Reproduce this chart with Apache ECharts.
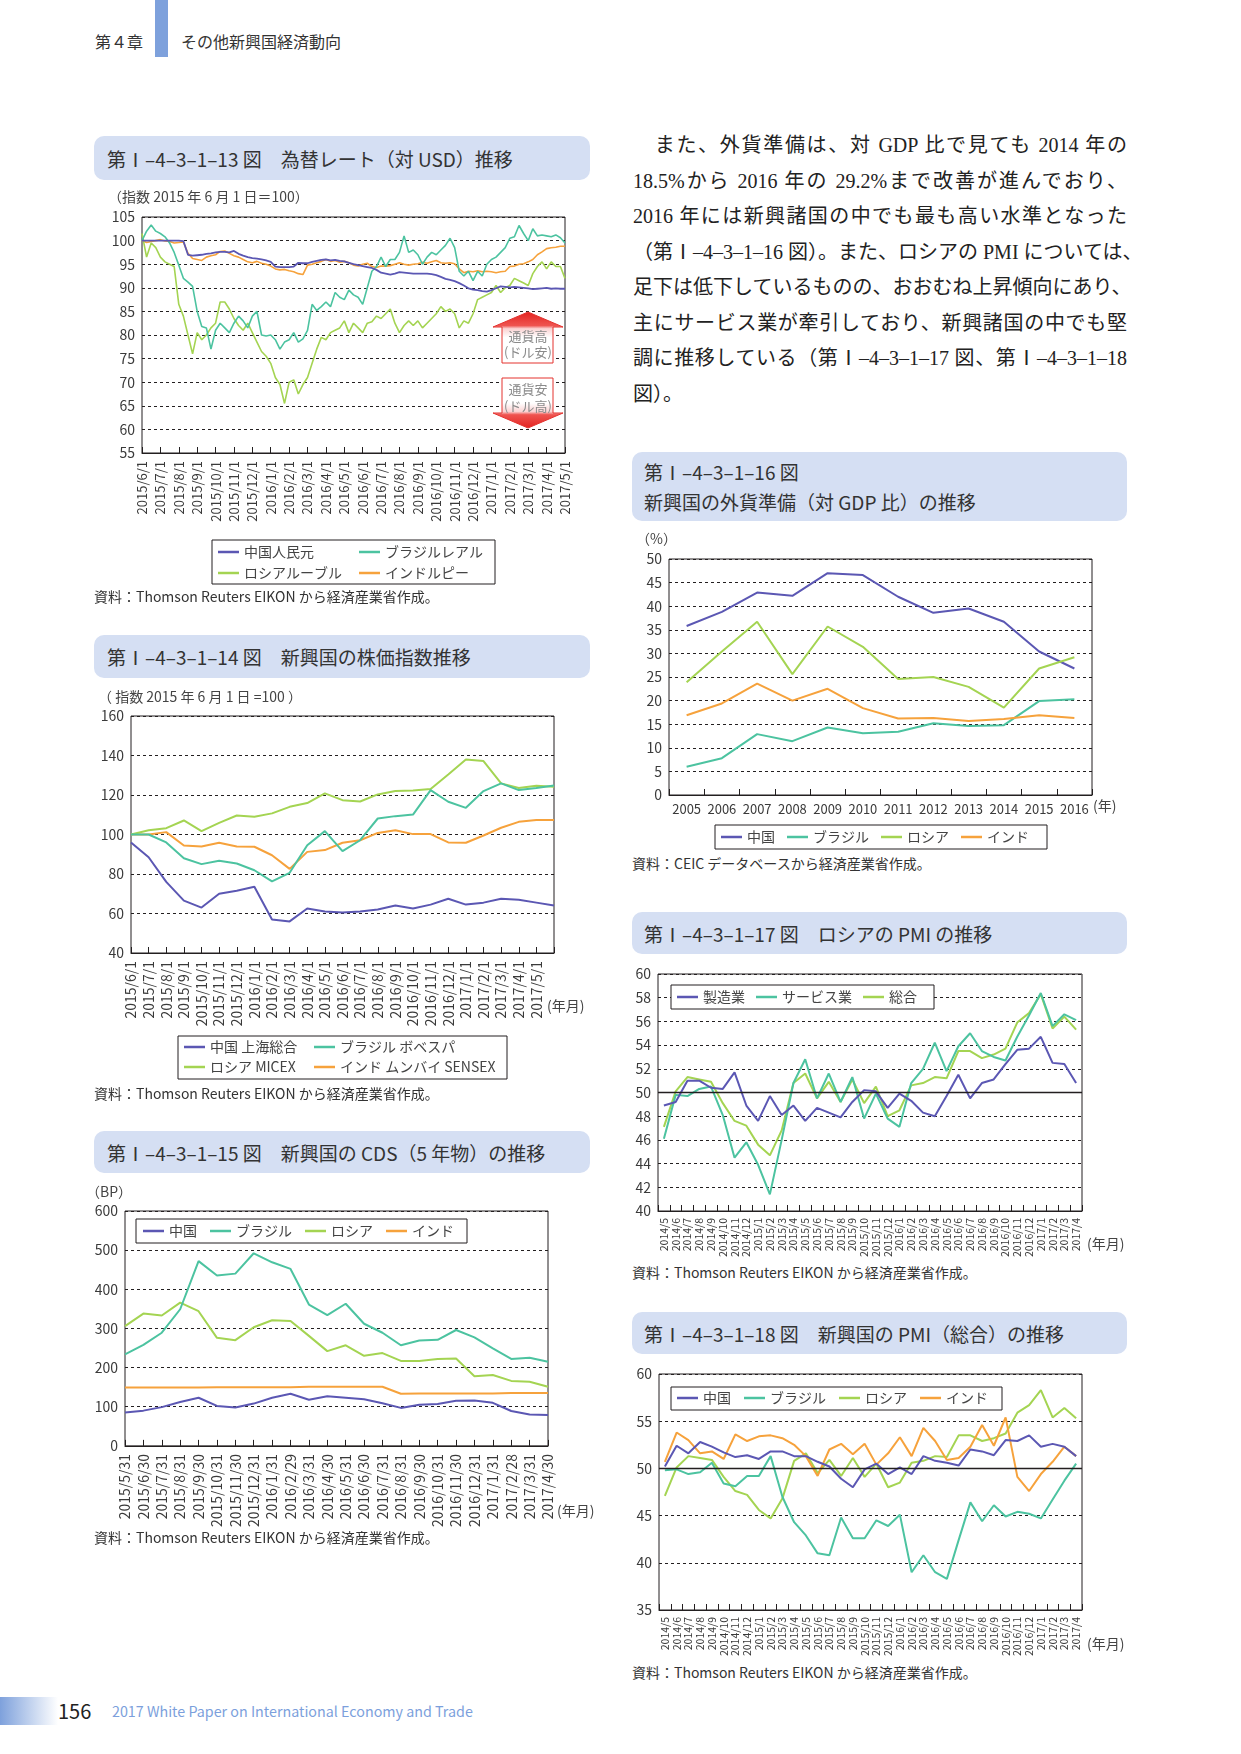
<!DOCTYPE html>
<html lang="ja">
<head>
<meta charset="utf-8">
<title>第4章 その他新興国経済動向</title>
<script src="https://cdn.jsdelivr.net/npm/echarts@6/dist/echarts.min.js"></script>
<style>
  html, body { margin: 0; padding: 0; background: #fff; }
  body {
    width: 1241px; height: 1754px; position: relative; overflow: hidden;
    font-family: "Noto Sans CJK JP", "Noto Sans", sans-serif; color: #333;
  }
  .abs { position: absolute; }
  .chapter { left: 95px; top: 30px; font-size: 16px; line-height: 22px; color: #333; }
  .chapter-bar { left: 155px; top: 0; width: 13px; height: 57px; background: #7ea1dc; }
  .chapter-name { left: 181px; top: 30px; font-size: 16px; line-height: 22px; color: #333; }

  .title-box {
    position: absolute; background: #d5dff3; border-radius: 10px;
    font-size: 19px; color: #333; box-sizing: border-box; padding-left: 13px;
    display: flex; align-items: center; white-space: nowrap;
  }
  .title-box.two { flex-direction: column; align-items: flex-start; justify-content: center; line-height: 30px; }
  .src { position: absolute; font-size: 14px; line-height: 20px; color: #333; white-space: nowrap; }
  .chart { position: absolute; }

  .body-text { left: 633px; top: 128px; width: 494px; font-family: "Liberation Serif", "Noto Sans CJK JP", serif; font-size: 20px; color: #222; }
  .body-text div { height: 35.5px; line-height: 35.5px; text-align: justify; text-align-last: justify; white-space: nowrap; }
  .body-text div.last { text-align-last: left; }

  .foot-bar { left: 0; top: 1697px; width: 58px; height: 28px; background: linear-gradient(to right, #7ea1dc, #ffffff); }
  .page-no { left: 58px; top: 1697px; font-size: 20px; line-height: 28px; color: #222; }
  .foot-title { left: 112px; top: 1700px; font-size: 14.3px; line-height: 22px; color: #7c9fdc; }
</style>
</head>
<body>
  <div class="abs chapter">第４章</div>
  <div class="abs chapter-bar"></div>
  <div class="abs chapter-name">その他新興国経済動向</div>

  <!-- left column -->
  <div class="title-box" style="left:94px; top:136px; width:496px; height:44px;">第Ⅰ–4–3–1–13 図　為替レート（対 USD）推移</div>
  <div id="c13" class="chart" style="left:84px; top:184px; width:510px; height:405px;"></div>
  <div class="src" style="left:94px; top:586px;">資料：Thomson Reuters EIKON から経済産業省作成。</div>

  <div class="title-box" style="left:94px; top:635px; width:496px; height:43px;">第Ⅰ–4–3–1–14 図　新興国の株価指数推移</div>
  <div id="c14" class="chart" style="left:84px; top:684px; width:520px; height:400px;"></div>
  <div class="src" style="left:94px; top:1083px;">資料：Thomson Reuters EIKON から経済産業省作成。</div>

  <div class="title-box" style="left:94px; top:1131px; width:496px; height:42px;">第Ⅰ–4–3–1–15 図　新興国の CDS（5 年物）の推移</div>
  <div id="c15" class="chart" style="left:84px; top:1180px; width:525px; height:350px;"></div>
  <div class="src" style="left:94px; top:1527px;">資料：Thomson Reuters EIKON から経済産業省作成。</div>

  <!-- right column -->
  <div class="abs body-text">
    <div>　また、外貨準備は、対 GDP 比で見ても 2014 年の</div>
    <div>18.5%から 2016 年の 29.2%まで改善が進んでおり、</div>
    <div>2016 年には新興諸国の中でも最も高い水準となった</div>
    <div>（第Ⅰ–4–3–1–16 図）。また、ロシアの PMI については、</div>
    <div>足下は低下しているものの、おおむね上昇傾向にあり、</div>
    <div>主にサービス業が牽引しており、新興諸国の中でも堅</div>
    <div>調に推移している（第Ⅰ–4–3–1–17 図、第Ⅰ–4–3–1–18</div>
    <div class="last">図）。</div>
  </div>

  <div class="title-box two" style="left:632px; top:452px; width:495px; height:69px; padding-left:12px;">
    <span>第Ⅰ–4–3–1–16 図</span><span>新興国の外貨準備（対 GDP 比）の推移</span>
  </div>
  <div id="c16" class="chart" style="left:630px; top:525px; width:520px; height:328px;"></div>
  <div class="src" style="left:632px; top:853px;">資料：CEIC データベースから経済産業省作成。</div>

  <div class="title-box" style="left:632px; top:912px; width:495px; height:42px; padding-left:12px;">第Ⅰ–4–3–1–17 図　ロシアの PMI の推移</div>
  <div id="c17" class="chart" style="left:630px; top:958px; width:520px; height:304px;"></div>
  <div class="src" style="left:632px; top:1262px;">資料：Thomson Reuters EIKON から経済産業省作成。</div>

  <div class="title-box" style="left:632px; top:1312px; width:495px; height:42px; padding-left:12px;">第Ⅰ–4–3–1–18 図　新興国の PMI（総合）の推移</div>
  <div id="c18" class="chart" style="left:630px; top:1358px; width:520px; height:304px;"></div>
  <div class="src" style="left:632px; top:1662px;">資料：Thomson Reuters EIKON から経済産業省作成。</div>

  <div class="abs foot-bar"></div>
  <div class="abs page-no">156</div>
  <div class="abs foot-title">2017 White Paper on International Economy and Trade</div>

<script>
// ---- 13: exchange rates vs USD (index 2015/6/1 = 100), ~weekly readings ----
const fxMonths = ['2015/6/1', '2015/7/1', '2015/8/1', '2015/9/1', '2015/10/1', '2015/11/1', '2015/12/1',
  '2016/1/1', '2016/2/1', '2016/3/1', '2016/4/1', '2016/5/1', '2016/6/1', '2016/7/1', '2016/8/1',
  '2016/9/1', '2016/10/1', '2016/11/1', '2016/12/1', '2017/1/1', '2017/2/1', '2017/3/1', '2017/4/1', '2017/5/1']
const fxCny = [100, 100, 100, 100, 100, 100, 100, 100, 100, 99.9,
  97, 96.8, 96.9, 97, 97.2, 97.3, 97.5, 97.6, 97.6, 97.5,
  97.8, 97.2, 96.8, 96.5, 96.3, 96.2, 96, 95.8, 95.5, 94.5,
  94.4, 94.4, 94.4, 94.5, 95.3, 95.2, 95.2, 95.5, 95.7, 95.9,
  96, 95.8, 95.9, 95.7, 95.6, 95.3, 95, 94.8, 94.6, 94.4,
  94.2, 93.8, 93.2, 93, 92.8, 93, 93.3, 93.2, 93.1, 93,
  93, 93, 93, 92.9, 92.7, 92.3, 91.9, 91.7, 91.4, 91,
  90.5, 89.9, 89.6, 89.5, 89.3, 89.2, 89.5, 89.9, 90.3, 90.2,
  90.1, 90.2, 90.1, 90, 89.9, 89.7, 89.8, 89.9, 90, 89.8,
  89.9, 89.8, 89.8]
const fxBrl = [100, 102, 103.3, 102, 101.5, 100.8, 99.5, 97.5, 94.8, 92,
  91.2, 90.3, 85, 81.8, 81.5, 77, 81, 82.5, 81.5, 80.5,
  82.5, 84, 83, 81.5, 84, 85, 80, 79.8, 80, 79,
  77, 78.5, 79, 80.5, 78.5, 79.2, 81, 86.5, 85.2, 86,
  87, 86, 89, 88, 87.5, 89.5, 88.5, 88, 86.5, 90,
  93.5, 94.5, 96.5, 94.5, 96, 96, 97.5, 101, 97.5, 98,
  97, 95, 96.5, 97.5, 97, 98, 99, 100.5, 98.5, 93.5,
  92.5, 93.5, 91.5, 93.5, 92.5, 95, 96, 96.5, 97.5, 98.5,
  100.5, 100.8, 103.2, 101.5, 100, 102.5, 101, 101.2, 101, 100.8,
  101.2, 100.6, 99.5]
const fxRub = [101.5, 96.5, 99.5, 98.5, 96.5, 95.5, 95, 94.5, 86.5, 84,
  80, 76, 80.5, 79, 80, 81.5, 82.5, 87, 87, 85.5,
  83.5, 82, 81, 82.5, 80.5, 78.5, 76.5, 75.5, 74, 71,
  69.5, 65.5, 70, 70.5, 67.5, 69.5, 71, 74, 77, 79.5,
  79, 80.5, 81, 81.5, 83, 80.5, 82.5, 81.5, 80.5, 82.5,
  82.8, 84, 83.5, 84.5, 85.5, 82.5, 80.5, 82, 83, 82,
  83, 81.5, 82.5, 83.5, 84.5, 86, 85, 85.5, 84.5, 81.5,
  83, 82.5, 84.5, 87.5, 88, 88.5, 89, 90.5, 89, 90,
  90.5, 92, 91.5, 91, 90.5, 93, 94.5, 95.5, 94, 95.5,
  94.5, 94.5, 92]
const fxInr = [100, 99.6, 99.8, 100, 100.2, 99.9, 99.8, 99.5, 99.6, 99.7,
  97.3, 96.2, 96, 95.8, 96.5, 96.8, 97, 97.7, 97.8, 97.3,
  96.8, 96.5, 96, 95.5, 95.3, 95.6, 95.2, 95, 94.6, 94,
  93.8, 93.9, 93.6, 93.4, 93, 92.8, 94.8, 95, 95.3, 95.6,
  96, 95.6, 95.8, 95.4, 95.6, 95.3, 94.8, 94.6, 95, 95.2,
  94.5, 94.3, 94.6, 94.6, 94.7, 95, 95.3, 95, 94.8, 95,
  95.1, 95.4, 95.2, 95.5, 95.8, 95.3, 95.2, 95.3, 95.1, 94,
  93.2, 93.5, 93.4, 93.6, 93.4, 93.5, 93.4, 93.2, 93.4, 93.5,
  94.5, 94.6, 95, 95.1, 95.5, 96, 97, 97.6, 98.3, 98.5,
  98.6, 98.8, 98.8]

// ---- 14: stock indices (index 2015/6/1 = 100) ----
const stockMonths = fxMonths.concat([''])
const stockChina = [96, 88.5, 76, 66.5, 63, 70, 71.5, 73.5, 57, 56, 62.5, 61, 60.5, 61, 62, 64, 62.5, 64.5, 67.5, 64.5, 65.5, 67.5, 67, 65.5, 64]
const stockBrazil = [100, 100, 96, 88, 85, 86.7, 85.3, 81.9, 76.3, 80.6, 94.6, 101.7, 91.6, 97.1, 108.1, 109.3, 110.1, 122.5, 116.6, 113.5, 122, 125.9, 122.5, 123.5, 124.8]
const stockRussia = [100, 102.2, 103.2, 107.1, 101.7, 105.9, 109.6, 109, 110.7, 114, 115.9, 120.8, 117.4, 116.7, 120.3, 122, 122.3, 123, 130.4, 138, 137.2, 125.9, 123.5, 124.7, 124.2]
const stockIndia = [100, 100, 101.2, 94.4, 93.9, 95.8, 93.9, 93.8, 89.5, 82.6, 91.2, 92.1, 95.8, 97.1, 100.8, 102.2, 100.2, 100.2, 96, 95.8, 99.5, 103.4, 106.4, 107.3, 107.3]

// ---- 15: CDS 5Y (BP) ----
const cdsDates = ['2015/5/31', '2015/6/30', '2015/7/31', '2015/8/31', '2015/9/30', '2015/10/31', '2015/11/30', '2015/12/31',
  '2016/1/31', '2016/2/29', '2016/3/31', '2016/4/30', '2016/5/31', '2016/6/30', '2016/7/31', '2016/8/31',
  '2016/9/30', '2016/10/31', '2016/11/30', '2016/12/31', '2017/1/31', '2017/2/28', '2017/3/31', '2017/4/30']
const cdsChina = [85, 90, 99, 112, 123, 102, 98, 108, 123, 133, 118, 127, 123, 119, 109, 97, 105, 107, 115, 116, 110, 89, 80, 79]
const cdsBrazil = [234, 258, 289, 349, 472, 435, 440, 492, 469, 452, 361, 334, 363, 312, 289, 257, 269, 271, 296, 277, 249, 222, 225, 215]
const cdsRussia = [306, 338, 333, 366, 344, 276, 270, 303, 321, 319, 281, 242, 257, 230, 237, 217, 217, 222, 223, 178, 181, 166, 164, 151]
const cdsIndia = [149, 149, 149, 149, 149, 150, 150, 150, 150, 150, 151, 151, 151, 151, 151, 133, 134, 134, 134, 134, 134, 135, 135, 135]

// ---- 16: FX reserves (% of GDP) ----
const resYears = ['2005', '2006', '2007', '2008', '2009', '2010', '2011', '2012', '2013', '2014', '2015', '2016']
const resChina = [35.8, 38.8, 42.9, 42.2, 47, 46.6, 42, 38.6, 39.5, 36.7, 30.4, 26.8]
const resBrazil = [6, 7.8, 12.9, 11.4, 14.3, 13.1, 13.4, 15.2, 14.6, 14.8, 19.9, 20.3]
const resRussia = [23.9, 30.4, 36.7, 25.6, 35.7, 31.4, 24.6, 25, 22.9, 18.5, 26.8, 29.2]
const resIndia = [16.9, 19.4, 23.6, 20, 22.5, 18.4, 16.2, 16.3, 15.7, 16.1, 16.9, 16.3]

// ---- 17 / 18: PMI ----
const pmiMonths = ['2014/5', '2014/6', '2014/7', '2014/8', '2014/9', '2014/10', '2014/11', '2014/12',
  '2015/1', '2015/2', '2015/3', '2015/4', '2015/5', '2015/6', '2015/7', '2015/8', '2015/9', '2015/10', '2015/11', '2015/12',
  '2016/1', '2016/2', '2016/3', '2016/4', '2016/5', '2016/6', '2016/7', '2016/8', '2016/9', '2016/10', '2016/11', '2016/12',
  '2017/1', '2017/2', '2017/3', '2017/4']
const ruMfg = [48.9, 49.2, 51, 51, 50.4, 50.3, 51.7, 48.9, 47.6, 49.7, 48.1, 48.9, 47.6, 48.7, 48.3, 47.9, 49.2, 50.2,
  50.1, 48.7, 49.9, 49.3, 48.3, 48, 49.7, 51.5, 49.5, 50.8, 51.1, 52.4, 53.6, 53.7, 54.7, 52.5, 52.4, 50.8]
const ruSvc = [46.1, 49.8, 49.7, 50.3, 50.5, 48.1, 44.5, 45.8, 43.9, 41.4, 46, 50.8, 52.8, 49.5, 51.6, 49.2, 51.3, 47.8,
  49.9, 47.8, 47.1, 50.8, 52, 54.2, 51.8, 53.9, 55, 53.5, 53, 52.7, 54.7, 56.5, 58.4, 55.6, 56.6, 56.1]
const ruComp = [47.1, 50.1, 51.3, 51.1, 50.9, 49.1, 47.6, 47.2, 45.6, 44.7, 46.8, 50.8, 51.6, 49.5, 50.9, 49.2, 51.1, 49.1,
  50.5, 48, 48.5, 50.6, 50.8, 51.3, 51.2, 53.5, 53.5, 52.9, 53.2, 53.7, 55.9, 56.7, 58.3, 55.4, 56.4, 55.3]
const emChina = [50.2, 52.4, 51.6, 52.8, 52.3, 51.7, 51.2, 51.4, 51, 51.8, 51.8, 51.3, 51.3, 50.7, 50.2, 48.9, 48, 49.9,
  50.5, 49.4, 50.1, 49.4, 51.3, 50.8, 50.6, 50.3, 52, 51.8, 51.4, 53, 52.9, 53.5, 52.3, 52.6, 52.3, 51.3]
const emBrazil = [49.8, 49.9, 49.4, 49.6, 50.6, 48.4, 48.1, 49.2, 49.2, 51.3, 47, 44.3, 42.9, 41, 40.8, 44.8, 42.6, 42.6,
  44.5, 43.9, 45.1, 39, 40.8, 39, 38.3, 42.4, 46.4, 44.4, 46.1, 44.9, 45.4, 45.2, 44.7, 46.7, 48.7, 50.5]
const emRussia = ruComp
const emIndia = [50.7, 53.8, 53, 51.6, 51.8, 51, 53.6, 52.9, 53.4, 53.5, 53.2, 52.5, 51.3, 49.2, 52, 52.6, 51.5, 52.6,
  50.4, 51.6, 53.3, 51.3, 54.3, 52.9, 50.9, 51.1, 52.3, 54.6, 52.4, 55.4, 49.1, 47.6, 49.4, 50.7, 52.3, 51.3]

const FONT = '"Noto Sans CJK JP", "Noto Sans", sans-serif'
const INK = '#231f20'
const LABEL = '#3a3a3a'
const C_CN = '#5b57b3', C_BR = '#4cc3a0', C_RU = '#a4d452', C_IN = '#f6a23c'

function yAxis(min, max, interval) {
  return {
    type: 'value', min, max, interval,
    axisLine: { show: false }, axisTick: { show: false },
    axisLabel: { color: LABEL, fontSize: 14, margin: 7, fontFamily: FONT },
    splitLine: { show: true, lineStyle: { color: INK, width: 1, type: [3, 3] } },
  }
}

function xAxis(data, extra) {
  const ax = {
    type: 'category', data, boundaryGap: false,
    axisLine: { show: true, lineStyle: { color: INK } },
    axisTick: { show: true, inside: true, length: 6, interval: 0, lineStyle: { color: INK } },
    axisLabel: { color: LABEL, fontSize: 13, rotate: 90, margin: 8, interval: 0, fontFamily: FONT },
    splitLine: { show: false },
  }
  if (extra) {
    if (extra.axisLabel) Object.assign(ax.axisLabel, extra.axisLabel)
    if (extra.axisTick) Object.assign(ax.axisTick, extra.axisTick)
    if (extra.boundaryGap !== undefined) ax.boundaryGap = extra.boundaryGap
  }
  return ax
}

function line(name, data, color, extra) {
  return Object.assign({
    name, type: 'line', data, symbol: 'none', color,
    lineStyle: { color, width: 2 }, z: 3,
  }, extra || {})
}

const legendText = { fontSize: 14, color: '#444', fontFamily: FONT }
function legend(data, left, top, extra) {
  return Object.assign({
    data, left, top, selectedMode: false, icon: 'rect', itemWidth: 21, itemHeight: 2.5, itemGap: 13,
    padding: 0, textStyle: legendText,
  }, extra || {})
}

function boxRect(x, y, width, height) {
  return { type: 'rect', shape: { x, y, width, height }, style: { fill: '#fff', stroke: INK, lineWidth: 1 }, z: 3 }
}
function note(text, left, top, size) {
  return { type: 'text', left, top, z: 5, style: { text, font: (size || 14) + 'px ' + FONT, fill: '#444' } }
}

const markFifty = {
  silent: true, symbol: 'none', label: { show: false }, animation: false,
  lineStyle: { color: INK, type: 'solid', width: 1.3 },
  data: [{ yAxis: 50 }],
}

function base(grid) {
  return {
    animation: false,
    textStyle: { fontFamily: FONT },
    grid: Object.assign({ show: true, borderColor: INK, borderWidth: 1, backgroundColor: 'transparent' }, grid),
  }
}

// ---- chart 13 ----
const fxCats = []
fxMonths.forEach((m, i) => {
  fxCats.push(m)
  if (i < fxMonths.length - 1) for (let k = 1; k <= 3; k++) fxCats.push(m + '+' + k)
})

function arrowUp() {
  return {
    type: 'polygon', z: 6,
    shape: { points: [[444, 128], [479, 143], [469, 143], [469, 179], [418, 179], [418, 143], [409, 143]] },
    style: {
      stroke: '#e4332f', lineWidth: 1,
      fill: { type: 'linear', x: 0, y: 0, x2: 0, y2: 1, colorStops: [
        { offset: 0, color: '#e3221f' }, { offset: 0.27, color: '#ef5450' }, { offset: 0.33, color: '#fbd2d2' },
        { offset: 0.5, color: '#ffffff' }, { offset: 1, color: '#ffffff' }] },
    },
  }
}
function arrowDown() {
  return {
    type: 'polygon', z: 6,
    shape: { points: [[418, 194], [469, 194], [469, 229], [479, 229], [444, 244], [409, 229], [418, 229]] },
    style: {
      stroke: '#e4332f', lineWidth: 1,
      fill: { type: 'linear', x: 0, y: 0, x2: 0, y2: 1, colorStops: [
        { offset: 0, color: '#ffffff' }, { offset: 0.5, color: '#ffffff' }, { offset: 0.67, color: '#fbd2d2' },
        { offset: 0.73, color: '#ef5450' }, { offset: 1, color: '#e3221f' }] },
    },
  }
}
function arrowText(text, cy) {
  return { type: 'text', x: 444, y: cy, z: 7,
    style: { text, font: '13px ' + FONT, fill: '#8a8a8a', align: 'center', verticalAlign: 'middle' } }
}

const c13 = echarts.init(document.getElementById('c13'))
c13.setOption(Object.assign(base({ left: 58, top: 33, width: 423, height: 236 }), {
  xAxis: xAxis(fxCats, { axisLabel: { interval: 3, fontSize: 13 }, axisTick: { interval: 3 } }),
  yAxis: yAxis(55, 105, 5),
  legend: [
    legend(['中国人民元', 'ロシアルーブル'], 134, 361, { orient: 'vertical', itemGap: 7 }),
    legend(['ブラジルレアル', 'インドルピー'], 275, 361, { orient: 'vertical', itemGap: 7 }),
  ],
  graphic: [
    note('（指数 2015 年 6 月 1 日＝100）', 24, 6),
    { type: 'rect', shape: { x: 128, y: 356, width: 283, height: 44 }, style: { fill: 'none', stroke: INK, lineWidth: 1 } },
    arrowUp(), arrowDown(),
    arrowText('通貨高', 152), arrowText('(ドル安)', 168),
    arrowText('通貨安', 205), arrowText('(ドル高)', 222),
  ],
  series: [
    line('インドルピー', fxInr, C_IN, { lineStyle: { color: C_IN, width: 1.6 } }),
    line('ロシアルーブル', fxRub, C_RU, { lineStyle: { color: C_RU, width: 1.6 } }),
    line('ブラジルレアル', fxBrl, C_BR, { lineStyle: { color: C_BR, width: 1.6 } }),
    line('中国人民元', fxCny, C_CN, { lineStyle: { color: C_CN, width: 1.8 } }),
  ],
}))

// ---- chart 14 ----
const c14 = echarts.init(document.getElementById('c14'))
c14.setOption(Object.assign(base({ left: 47, top: 32, width: 423, height: 237 }), {
  xAxis: xAxis(stockMonths, { axisLabel: { fontSize: 14 } }),
  yAxis: yAxis(40, 160, 20),
  legend: [
    legend(['中国 上海総合', 'ロシア MICEX'], 100, 356, { orient: 'vertical', itemGap: 6 }),
    legend(['ブラジル ボベスパ', 'インド ムンバイ SENSEX'], 230, 356, { orient: 'vertical', itemGap: 6 }),
  ],
  graphic: [
    note('（ 指数 2015 年 6 月 1 日 =100 ）', 14, 6),
    note('(年月)', 463, 315),
    { type: 'rect', shape: { x: 94, y: 352, width: 329, height: 43 }, style: { fill: 'none', stroke: INK, lineWidth: 1 } },
  ],
  series: [
    line('インド ムンバイ SENSEX', stockIndia, C_IN),
    line('ロシア MICEX', stockRussia, C_RU),
    line('ブラジル ボベスパ', stockBrazil, C_BR),
    line('中国 上海総合', stockChina, C_CN),
  ],
}))

// ---- chart 15 ----
const c15 = echarts.init(document.getElementById('c15'))
c15.setOption(Object.assign(base({ left: 41, top: 31, width: 423, height: 236 }), {
  xAxis: xAxis(cdsDates, { axisLabel: { fontSize: 14 } }),
  yAxis: yAxis(0, 600, 100),
  legend: legend(['中国', 'ブラジル', 'ロシア', 'インド'], 59, 44, { z: 6 }),
  graphic: [
    note('（BP）', 2, 5),
    note('(年月)', 473, 324),
    boxRect(52, 39, 331, 24),
  ],
  series: [
    line('インド', cdsIndia, C_IN),
    line('ロシア', cdsRussia, C_RU),
    line('ブラジル', cdsBrazil, C_BR),
    line('中国', cdsChina, C_CN),
  ],
}))

// ---- chart 16 ----
const c16 = echarts.init(document.getElementById('c16'))
c16.setOption(Object.assign(base({ left: 39, top: 34, width: 423, height: 236 }), {
  xAxis: xAxis(resYears, { boundaryGap: true, axisLabel: { rotate: 0, fontSize: 13, margin: 8 } }),
  yAxis: yAxis(0, 50, 5),
  legend: legend(['中国', 'ブラジル', 'ロシア', 'インド'], 91, 305, { itemGap: 12, z: 6 }),
  graphic: [
    note('（%）', 6, 7),
    note('(年)', 463, 274),
    boxRect(85, 300, 332, 24),
  ],
  series: [
    line('中国', resChina, C_CN),
    line('ブラジル', resBrazil, C_BR),
    line('ロシア', resRussia, C_RU),
    line('インド', resIndia, C_IN),
  ],
}))

// ---- chart 17 ----
const c17 = echarts.init(document.getElementById('c17'))
c17.setOption(Object.assign(base({ left: 28, top: 16, width: 424, height: 237 }), {
  xAxis: xAxis(pmiMonths, { boundaryGap: true, axisLabel: { fontSize: 10.5, margin: 7 } }),
  yAxis: yAxis(40, 60, 2),
  legend: legend(['製造業', 'サービス業', '総合'], 47, 32, { itemGap: 11, z: 6 }),
  graphic: [
    note('(年月)', 457, 279),
    boxRect(41, 27, 263, 24),
  ],
  series: [
    line('総合', ruComp, C_RU, { markLine: markFifty }),
    line('サービス業', ruSvc, C_BR),
    line('製造業', ruMfg, C_CN),
  ],
}))

// ---- chart 18 ----
const c18 = echarts.init(document.getElementById('c18'))
c18.setOption(Object.assign(base({ left: 29, top: 16, width: 423, height: 236 }), {
  xAxis: xAxis(pmiMonths, { boundaryGap: true, axisLabel: { fontSize: 10.5, margin: 7 } }),
  yAxis: yAxis(35, 60, 5),
  legend: legend(['中国', 'ブラジル', 'ロシア', 'インド'], 47, 33, { itemGap: 13, z: 6 }),
  graphic: [
    note('(年月)', 457, 279),
    boxRect(41, 29, 331, 23),
  ],
  series: [
    line('ロシア', emRussia, C_RU, { markLine: markFifty }),
    line('ブラジル', emBrazil, C_BR),
    line('インド', emIndia, C_IN),
    line('中国', emChina, C_CN),
  ],
}))
</script>
</body>
</html>
